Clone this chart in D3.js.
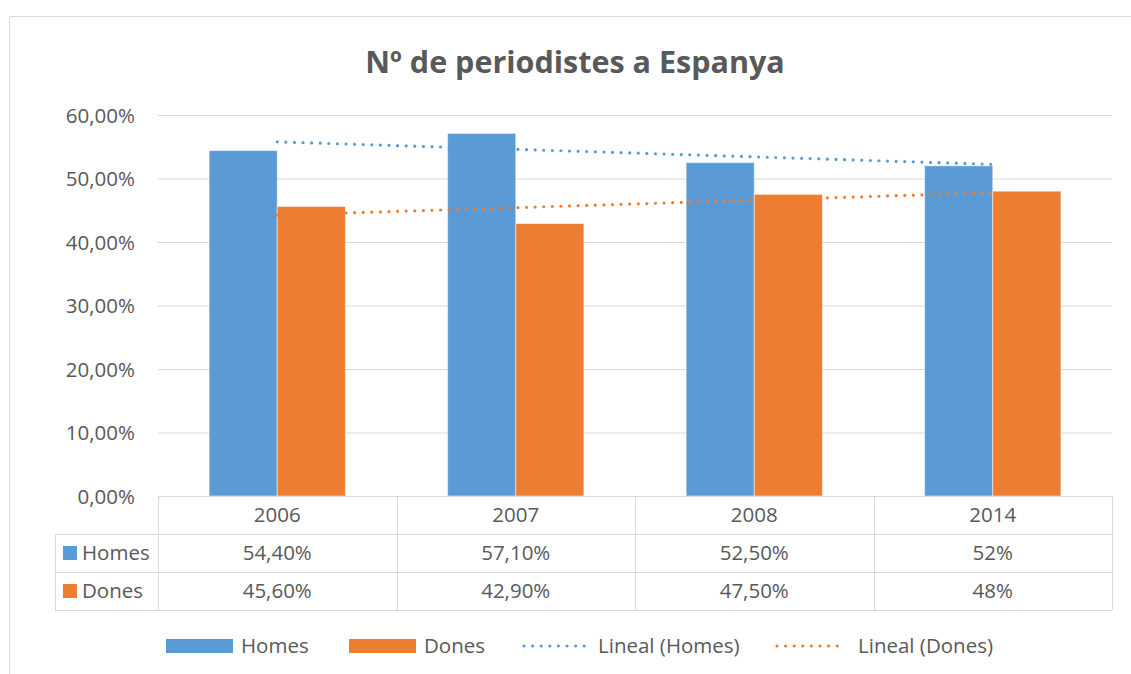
<!DOCTYPE html>
<html><head><meta charset="utf-8">
<script src="https://cdn.jsdelivr.net/npm/d3@7"></script>
<style>body{margin:0;background:#fff}svg{display:block}text{font-family:"Open Sans",sans-serif;fill:#595959}</style>
</head><body>
<svg id="c" width="1131" height="674"></svg>
<script>
const title = "Nº de periodistes a Espanya";
const categories = ["2006","2007","2008","2014"];
const seriesNames = ["Homes","Dones"];
const homes = [54.4,57.1,52.5,52.0];
const dones = [45.6,42.9,47.5,48.0];
const homesLabels = ["54,40%","57,10%","52,50%","52%"];
const donesLabels = ["45,60%","42,90%","47,50%","48%"];
const yTicks = [0,10,20,30,40,50,60];
const colors = ["#5B9BD5","#ED7D31"];
const legendLabels = ["Homes","Dones","Lineal (Homes)","Lineal (Dones)"];

const FS = "20.5px";
const svg = d3.select("#c");
const L=158, R=1112, T=115, B=496;
const rowH = 38;

// frame
svg.append("path").attr("d","M9.5,674 V16.5 H1131").attr("fill","none").attr("stroke","#d9d9d9");

svg.append("text").attr("x",575).attr("y",73).attr("text-anchor","middle")
  .style("font-size","30.5px").style("font-weight","bold").text(title);

const x = d3.scaleBand().domain(categories).range([L,R]).paddingInner(0).paddingOuter(0);
const bw = x.bandwidth();
const inner = d3.scaleBand().domain(seriesNames).range([0,bw]).paddingInner(0).paddingOuter(0.75);
const y = d3.scaleLinear().domain([0,60]).range([B,T]);

// gridlines + y labels
const yAxis = d3.axisLeft(y).tickValues(yTicks).tickSize(-(R-L))
  .tickFormat(d=>d3.format(".2f")(d).replace(".",",")+"%");
const ga = svg.append("g").attr("transform",`translate(${L},0)`).call(yAxis);
ga.select(".domain").remove();
ga.selectAll(".tick line").attr("stroke","#d9d9d9").attr("stroke-width",1);
ga.selectAll(".tick text").attr("x",-23).attr("dy","0.35em").style("font-size",FS).style("fill","#595959").style("font-family",'"Open Sans",sans-serif');
ga.selectAll(".tick").filter(d=>d===0).select("line").remove();

// bars
const data = [homes,dones];
data.forEach((vals,si)=>{
  svg.append("g").selectAll("rect").data(vals).join("rect")
    .attr("x",(d,i)=>x(categories[i])+inner(seriesNames[si]))
    .attr("width",inner.bandwidth())
    .attr("y",d=>y(d)).attr("height",d=>B-y(d))
    .attr("fill",colors[si]).attr("stroke","rgba(255,255,255,0.5)").attr("stroke-width",1);
});

// trendlines (linear regression)
function reg(vals){
  const n=vals.length, xs=vals.map((d,i)=>i+1);
  const mx=d3.mean(xs), my=d3.mean(vals);
  const s=d3.sum(xs.map((xx,i)=>(xx-mx)*(vals[i]-my)))/d3.sum(xs.map(xx=>(xx-mx)**2));
  return [[0,my+s*(1-mx)],[n-1,my+s*(n-mx)]];
}
data.forEach((vals,si)=>{
  const pts = reg(vals);
  svg.append("path")
    .attr("d",d3.line().x(p=>x(categories[p[0]])+bw/2).y(p=>y(p[1]))(pts))
    .attr("fill","none").attr("stroke",colors[si]).attr("stroke-width",3.2)
    .attr("stroke-linecap","round").attr("stroke-dasharray","0 8.6");
});

// data table
const tbl = svg.append("g").attr("stroke","#d9d9d9").attr("fill","none");
const tl = 55;
tbl.append("line").attr("x1",L).attr("x2",R).attr("y1",B+0.5).attr("y2",B+0.5);
[1,2,3].forEach(k=>{
  tbl.append("line").attr("x1",tl).attr("x2",R).attr("y1",B+rowH*k+0.5).attr("y2",B+rowH*k+0.5);
});
tbl.append("line").attr("x1",tl+0.5).attr("x2",tl+0.5).attr("y1",B+rowH).attr("y2",B+rowH*3);
categories.forEach(c=>{
  tbl.append("line").attr("x1",Math.round(x(c))+0.5).attr("x2",Math.round(x(c))+0.5).attr("y1",B).attr("y2",B+rowH*3);
});
tbl.append("line").attr("x1",R+0.5).attr("x2",R+0.5).attr("y1",B).attr("y2",B+rowH*3);

const rows = [categories, homesLabels, donesLabels];
rows.forEach((r,ri)=>{
  svg.append("g").selectAll("text").data(r).join("text")
    .attr("x",(d,i)=>x(categories[i])+bw/2).attr("y",B+rowH*ri+rowH/2).attr("dy","0.35em")
    .attr("text-anchor","middle").style("font-size",FS).text(d=>d);
});
seriesNames.forEach((s,si)=>{
  const cy = B+rowH*(si+1)+rowH/2;
  svg.append("rect").attr("x",63).attr("y",cy-7).attr("width",14).attr("height",14).attr("fill",colors[si]);
  svg.append("text").attr("x",82).attr("y",cy).attr("dy","0.35em").style("font-size",FS).text(s);
});

// legend
const ly = 646;
const lg = svg.append("g");
const items = [
  {type:"rect",c:colors[0],x:166,tx:241,t:legendLabels[0]},
  {type:"rect",c:colors[1],x:349,tx:424,t:legendLabels[1]},
  {type:"dot",c:colors[0],x:524,tx:598,t:legendLabels[2]},
  {type:"dot",c:colors[1],x:777,tx:858,t:legendLabels[3]}
];
items.forEach(it=>{
  if(it.type==="rect"){
    lg.append("rect").attr("x",it.x).attr("y",ly-7).attr("width",67).attr("height",14).attr("fill",it.c);
  } else {
    lg.append("line").attr("x1",it.x).attr("x2",it.x+66).attr("y1",ly).attr("y2",ly)
      .attr("stroke",it.c).attr("stroke-width",3.2).attr("stroke-linecap","round").attr("stroke-dasharray","0 8.6");
  }
  lg.append("text").attr("x",it.tx).attr("y",ly).attr("dy","0.35em").style("font-size",FS).text(it.t);
});
</script>
</body></html>
